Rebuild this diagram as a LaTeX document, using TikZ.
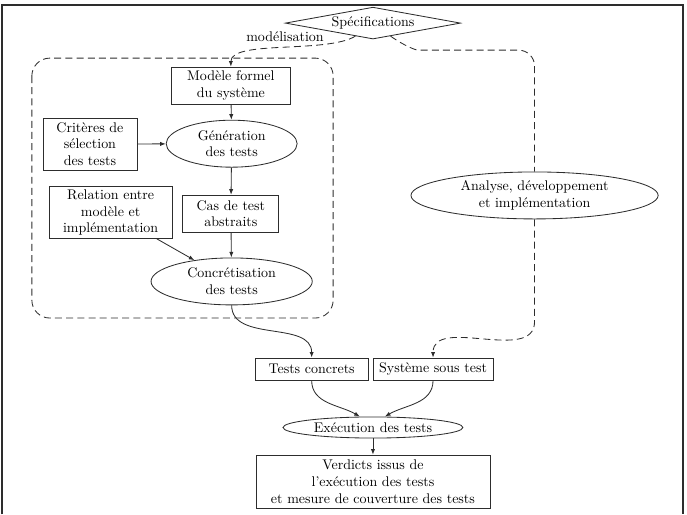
\documentclass[tikz,border=0pt]{standalone}
\usepackage{tikz}
\usetikzlibrary{positioning,calc}
\usetikzlibrary{arrows.meta,shapes.geometric}
\definecolor{InkGray}{RGB}{45,45,45}
\tikzset{
  box/.style={draw=InkGray,semithick,align=center,inner sep=2pt},
  oval/.style={ellipse,draw=InkGray,semithick,align=center,inner sep=1pt},
  losange/.style={diamond,draw=InkGray,semithick,aspect=5.5,inner sep=0pt,
    minimum width=4.4cm,minimum height=0.8cm},
  flow/.style={draw=InkGray,semithick,-{Latex[length=4pt,width=3pt]}},
  trace/.style={flow,dash pattern=on 5pt off 3pt},
  dashbox/.style={draw=InkGray,semithick,dash pattern=on 5pt off 3pt},
  frame/.style={draw=InkGray,line width=1.3pt},
}

\begin{document}
\begin{tikzpicture}
\useasboundingbox (0,0) rectangle (17.26,-12.92);
\draw[frame] (0.05,-12.92) -- (0.05,-0.13) -- (17.16,-0.13) -- (17.16,-12.92);

\node[losange] (spec) at (9.37,-0.58) {Spécifications};
\node (modlabel) at (7.16,-0.93) {modélisation};

\draw[dashbox,rounded corners=0.45cm] (0.80,-1.46) rectangle (8.37,-7.99);

\node[box,minimum width=2.97cm,minimum height=0.93cm] (modele) at (5.80,-2.15) {Modèle formel\\du système};
\node[oval,minimum width=3.29cm,minimum height=1.18cm] (generation) at (5.82,-3.61) {Génération\\des tests};
\node[box,minimum width=2.36cm,minimum height=1.31cm] (criteres) at (2.26,-3.62) {Critères de\\sélection\\des tests};
\node[box,minimum width=2.41cm,minimum height=0.93cm] (cas) at (5.80,-5.37) {Cas de test\\abstraits};
\node[box,minimum width=3.09cm,minimum height=1.28cm] (relation) at (2.78,-5.34) {Relation entre\\modèle et\\implémentation};
\node[oval,minimum width=4.05cm,minimum height=1.18cm] (concretisation) at (5.82,-7.07) {Concrétisation\\des tests};

\node[oval,minimum width=6.21cm,minimum height=1.18cm] (analyse) at (13.43,-4.91) {Analyse, développement\\et implémentation};

\node[box,minimum width=2.84cm,minimum height=0.55cm] (tests) at (7.83,-9.27) {Tests concrets};
\node[box,minimum width=3.02cm,minimum height=0.55cm] (systeme) at (10.88,-9.27) {Système sous test};
\node[oval,minimum width=4.52cm,minimum height=0.53cm,inner sep=0pt] (execution) at (9.37,-10.74) {Exécution des tests};
\node[box,minimum width=5.88cm,minimum height=1.33cm] (verdicts) at (9.37,-12.10) {Verdicts issus de\\l'exécution des tests\\et mesure de couverture des tests};

\coordinate (specL) at ($(spec.south)!0.2!(spec.west)$);
\coordinate (specR) at ($(spec.south)!0.2!(spec.east)$);
\coordinate (bendR) at (10.9,-1.26);
\coordinate (downR) at (13.43,-8.08);

\draw[trace] (specL) .. controls (8.2,-1.35) and (5.80,-1.0) .. (modele.north);
\draw[dashbox,rounded corners=0.4cm] (specR) to[out=-35,in=180] (bendR) -| (analyse.north);
\draw[trace] (analyse.south) -- (downR) to[out=-90,in=90] (systeme.north);

\draw[flow] (modele) -- (generation);
\draw[flow] (criteres) -- (generation);
\draw[flow] (generation) -- (cas);
\draw[flow] (cas) -- (concretisation);
\draw[flow] (relation) -- (concretisation);

\draw[flow] (concretisation.south) to[out=-90,in=90] (tests.north);
\draw[flow] (tests.south) to[out=-90,in=150] ([xshift=-0.33cm]execution.north);
\draw[flow] (systeme.south) to[out=-90,in=30] ([xshift=0.30cm]execution.north);
\draw[flow] (execution) -- (verdicts);
\end{tikzpicture}
\end{document}
